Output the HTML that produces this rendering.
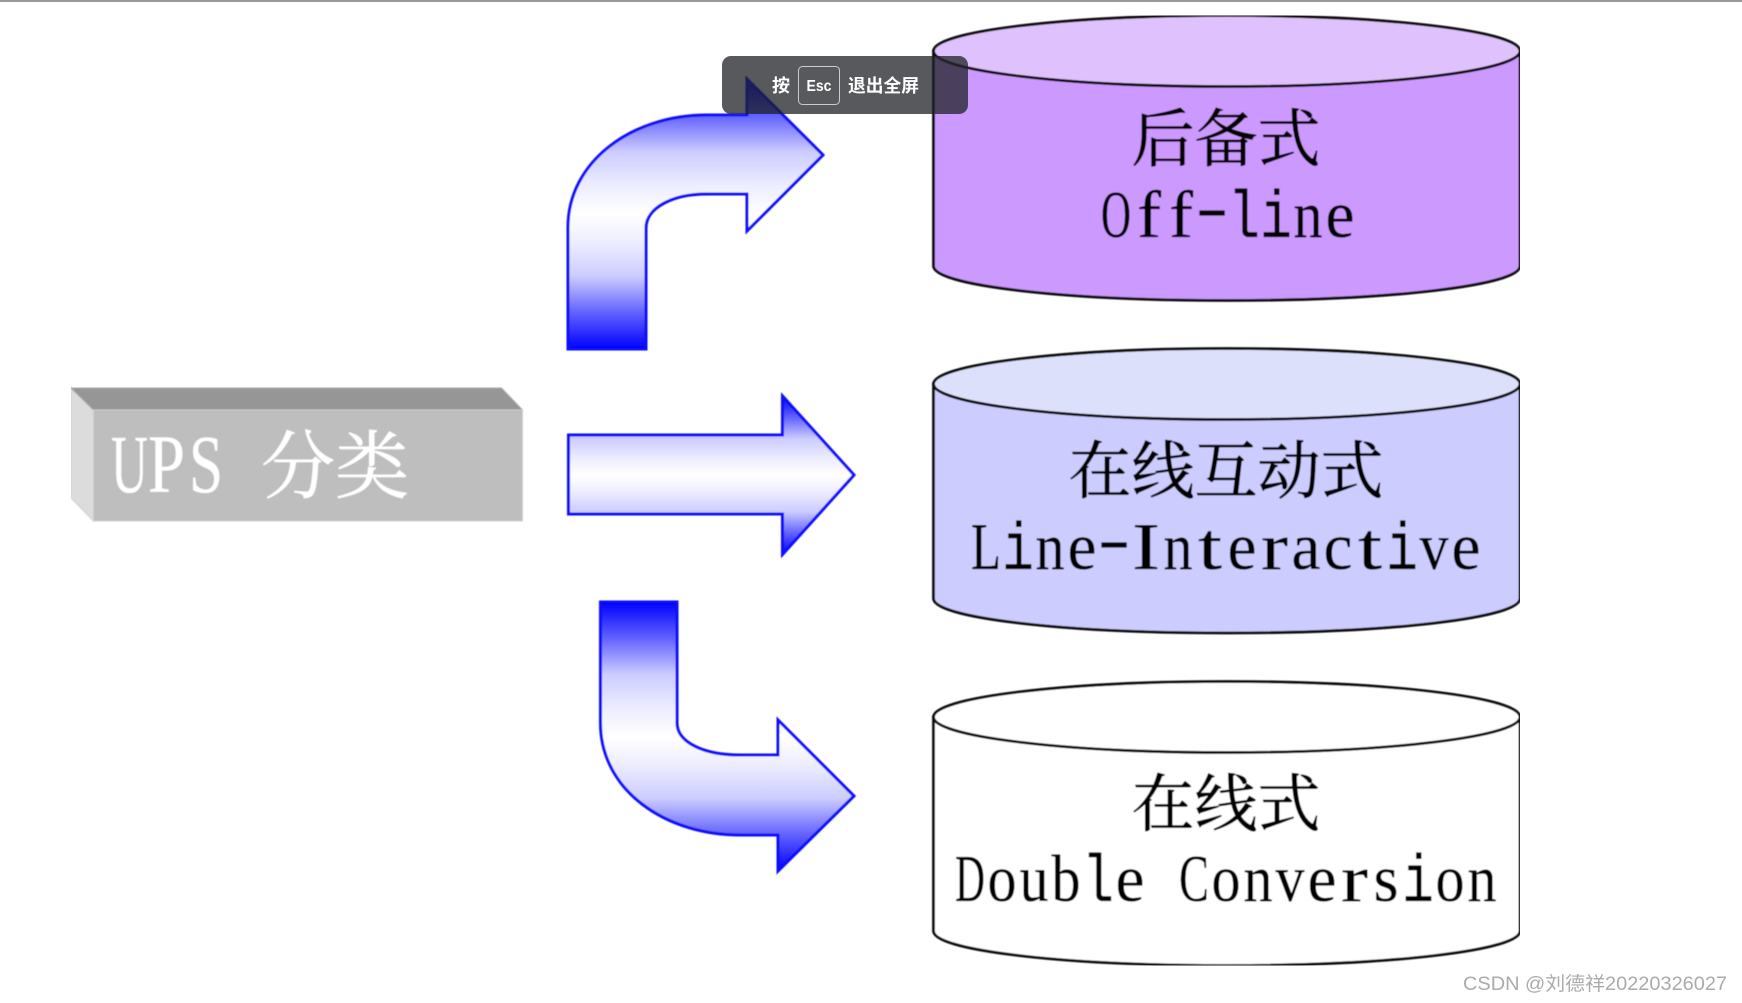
<!DOCTYPE html>
<html>
<head>
<meta charset="utf-8">
<style>
html,body{margin:0;padding:0;background:#fff;width:1742px;height:1003px;overflow:hidden}
svg{display:block}
.cjk{font-family:"Liberation Serif","Noto Serif CJK SC",serif}
.lat{font-family:"Liberation Serif",serif}
.m{font-family:"Liberation Mono",monospace}
</style>
</head>
<body>
<svg width="1742" height="1003" viewBox="0 0 1742 1003" xmlns="http://www.w3.org/2000/svg">
<defs>
<linearGradient id="g" x1="0" y1="0" x2="0" y2="1">
<stop offset="0" stop-color="#0000ff"/>
<stop offset=".14" stop-color="#6666ff"/>
<stop offset=".27" stop-color="#ccccff"/>
<stop offset=".4" stop-color="#eeeeff"/>
<stop offset=".5" stop-color="#ffffff"/>
<stop offset=".6" stop-color="#eeeeff"/>
<stop offset=".73" stop-color="#ccccff"/>
<stop offset=".86" stop-color="#6666ff"/>
<stop offset="1" stop-color="#0000ff"/>
</linearGradient>
<filter id="soft" x="0" y="0" width="100%" height="100%"><feGaussianBlur stdDeviation="0.45"/></filter>
</defs>
<rect width="1742" height="1003" fill="#fff"/>
<rect width="1742" height="2" fill="#999"/>

<g filter="url(#soft)">
<!-- UPS box -->
<polygon points="71,387 93.5,410 93.5,521 71,498" fill="#dcdcdc" stroke="#d0d0d0" stroke-width="1"/>
<polygon points="71,388 501.5,388 522.5,410 93.5,410" fill="#969696" stroke="#aaa" stroke-width="1"/>
<rect x="93.5" y="410" width="429" height="111" fill="#bebebe" stroke="#d0d0d0" stroke-width="1"/>
<text class="lat" font-size="83" fill="#fff" y="492" stroke="#fff" stroke-width=".3"><tspan x="111" textLength="37" lengthAdjust="spacingAndGlyphs">U</tspan><tspan x="148" textLength="37" lengthAdjust="spacingAndGlyphs">P</tspan><tspan x="189" textLength="34" lengthAdjust="spacingAndGlyphs">S</tspan></text>
<text class="cjk" font-size="74" fill="#fff" stroke="#fff" stroke-width=".6" x="261" y="492">分类</text>

<!-- Arrows -->
<path d="M568 349 V227 C568 163 630 115 707 115 H747 V79 L823 155 L747 231 V194 H707 C672 194 646 208 646 228 V349 Z" fill="url(#g)" stroke="#1010ff" stroke-width="3"/>
<path d="M568.5 435 H782.5 V396 L854 475 L782.5 554.5 V514 H568.5 Z" fill="url(#g)" stroke="#1010ff" stroke-width="3"/>
<path d="M600.5 602 H677 V723 C677 742 703 755 740 755 H778 V720 L854 796 L778 871 V835 H740 C665 835 600.500 790 600.500 723 Z" fill="url(#g)" stroke="#1010ff" stroke-width="3"/>

<!-- Cylinder 1 -->
<g stroke="#111" stroke-width="2.8">
<path d="M933.5 51 V266 C933.5 285.600 1065 300.500 1226.750 300.500 C1388.500 300.500 1520 285.600 1520 266 V51 Z" fill="#cc99ff"/>
<ellipse cx="1226.750" cy="51" rx="293.250" ry="35.500" fill="#dfc2fd"/>
</g>
<text class="cjk" font-size="63" text-anchor="middle" x="1226" y="161" fill="#000" stroke="#000" stroke-width=".7">后备式</text>
<text class="lat" font-size="67" fill="#000" stroke="#000" stroke-width=".3" y="237"><tspan x="1101" textLength="30" lengthAdjust="spacingAndGlyphs">O</tspan><tspan x="1137" textLength="24" lengthAdjust="spacingAndGlyphs">f</tspan><tspan x="1169" textLength="24" lengthAdjust="spacingAndGlyphs">f</tspan><tspan x="1196" y="229" textLength="32" lengthAdjust="spacingAndGlyphs">-</tspan><tspan class="m" x="1228" y="237" textLength="32" lengthAdjust="spacingAndGlyphs">l</tspan><tspan class="m" x="1260" textLength="32" lengthAdjust="spacingAndGlyphs">i</tspan><tspan x="1293.5" textLength="29" lengthAdjust="spacingAndGlyphs">n</tspan><tspan x="1325.5" textLength="29" lengthAdjust="spacingAndGlyphs">e</tspan></text>

<!-- Cylinder 2 -->
<g stroke="#111" stroke-width="2.8">
<path d="M933.5 384 V598.500 C933.5 618.100 1065 633 1226.750 633 C1388.500 633 1520 618.100 1520 598.500 V384 Z" fill="#ccccff"/>
<ellipse cx="1226.750" cy="384" rx="293.250" ry="35.500" fill="#dde0fb"/>
</g>
<text class="cjk" font-size="63" text-anchor="middle" x="1226" y="493" fill="#000" stroke="#000" stroke-width=".7">在线互动式</text>
<text class="lat" font-size="67" fill="#000" stroke="#000" stroke-width=".3" y="569"><tspan x="971" textLength="30" lengthAdjust="spacingAndGlyphs">L</tspan><tspan class="m" x="1002" textLength="32" lengthAdjust="spacingAndGlyphs">i</tspan><tspan x="1035.5" textLength="29" lengthAdjust="spacingAndGlyphs">n</tspan><tspan x="1067.5" textLength="29" lengthAdjust="spacingAndGlyphs">e</tspan><tspan x="1098" y="561" textLength="32" lengthAdjust="spacingAndGlyphs">-</tspan><tspan x="1132" y="569" textLength="28" lengthAdjust="spacingAndGlyphs">I</tspan><tspan x="1163.5" textLength="29" lengthAdjust="spacingAndGlyphs">n</tspan><tspan x="1198" textLength="24" lengthAdjust="spacingAndGlyphs">t</tspan><tspan x="1227.5" textLength="29" lengthAdjust="spacingAndGlyphs">e</tspan><tspan x="1261" textLength="27" lengthAdjust="spacingAndGlyphs">r</tspan><tspan x="1291.5" textLength="29" lengthAdjust="spacingAndGlyphs">a</tspan><tspan x="1323.5" textLength="29" lengthAdjust="spacingAndGlyphs">c</tspan><tspan x="1358" textLength="24" lengthAdjust="spacingAndGlyphs">t</tspan><tspan class="m" x="1386" textLength="32" lengthAdjust="spacingAndGlyphs">i</tspan><tspan x="1419.5" textLength="29" lengthAdjust="spacingAndGlyphs">v</tspan><tspan x="1451.5" textLength="29" lengthAdjust="spacingAndGlyphs">e</tspan></text>

<!-- Cylinder 3 -->
<g stroke="#111" stroke-width="2.8">
<path d="M933.5 717 V931 C933.5 950.600 1065 965.500 1226.750 965.500 C1388.500 965.500 1520 950.600 1520 931 V717 Z" fill="#fff"/>
<ellipse cx="1226.750" cy="717" rx="293.250" ry="35.500" fill="#fff"/>
</g>
<text class="cjk" font-size="63" text-anchor="middle" x="1226" y="826" fill="#000" stroke="#000" stroke-width=".7">在线式</text>
<text class="lat" font-size="67" fill="#000" stroke="#000" stroke-width=".3" y="901"><tspan x="955" textLength="30" lengthAdjust="spacingAndGlyphs">D</tspan><tspan x="987.5" textLength="29" lengthAdjust="spacingAndGlyphs">o</tspan><tspan x="1019.5" textLength="29" lengthAdjust="spacingAndGlyphs">u</tspan><tspan x="1051.5" textLength="29" lengthAdjust="spacingAndGlyphs">b</tspan><tspan class="m" x="1082" textLength="32" lengthAdjust="spacingAndGlyphs">l</tspan><tspan x="1115.5" textLength="29" lengthAdjust="spacingAndGlyphs">e</tspan><tspan x="1146"> </tspan><tspan x="1179" textLength="30" lengthAdjust="spacingAndGlyphs">C</tspan><tspan x="1211.5" textLength="29" lengthAdjust="spacingAndGlyphs">o</tspan><tspan x="1243.5" textLength="29" lengthAdjust="spacingAndGlyphs">n</tspan><tspan x="1275.5" textLength="29" lengthAdjust="spacingAndGlyphs">v</tspan><tspan x="1307.5" textLength="29" lengthAdjust="spacingAndGlyphs">e</tspan><tspan x="1341" textLength="27" lengthAdjust="spacingAndGlyphs">r</tspan><tspan x="1373.5" textLength="25" lengthAdjust="spacingAndGlyphs">s</tspan><tspan class="m" x="1402" textLength="32" lengthAdjust="spacingAndGlyphs">i</tspan><tspan x="1435.5" textLength="29" lengthAdjust="spacingAndGlyphs">o</tspan><tspan x="1467.5" textLength="29" lengthAdjust="spacingAndGlyphs">n</tspan></text>
</g>

<!-- Fullscreen toast -->
<rect x="722" y="56" width="246" height="58" rx="9" fill="#1f2226" fill-opacity=".75"/>
<text x="772" y="92" font-size="18" font-weight="700" fill="#fff" font-family="'Liberation Sans','Noto Sans CJK SC',sans-serif">按</text>
<rect x="798.500" y="66.500" width="41" height="38" rx="4" fill="none" stroke="#ccc" stroke-width="1"/>
<text x="819" y="91" font-size="16" font-weight="700" fill="#fff" text-anchor="middle" font-family="'Liberation Sans',sans-serif" textLength="25" lengthAdjust="spacingAndGlyphs">Esc</text>
<text x="848" y="92" font-size="18" font-weight="700" fill="#fff" font-family="'Liberation Sans','Noto Sans CJK SC',sans-serif" textLength="71" lengthAdjust="spacingAndGlyphs">退出全屏</text>

<!-- Watermark -->
<text x="1463" y="990" font-size="19" fill="#ababab" font-family="'Liberation Sans','Noto Sans CJK SC',sans-serif" textLength="264" lengthAdjust="spacingAndGlyphs">CSDN @刘德祥20220326027</text>
</svg>
</body>
</html>
